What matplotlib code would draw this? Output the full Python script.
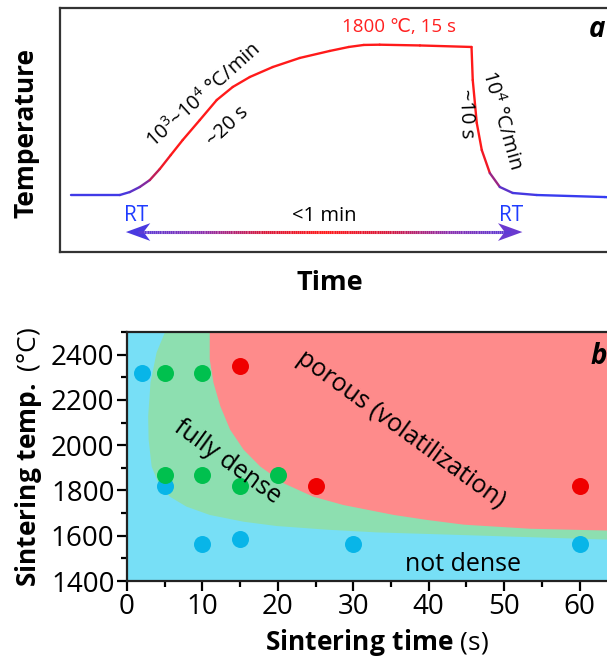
import numpy as np
import matplotlib
matplotlib.use("Agg")
import matplotlib.pyplot as plt
from matplotlib.collections import LineCollection
from matplotlib.colors import LinearSegmentedColormap
from matplotlib.patches import Polygon

plt.rcParams['font.family'] = ['Open Sans', 'DejaVu Sans']
plt.rcParams['mathtext.fontset'] = 'custom'
plt.rcParams['mathtext.rm'] = 'Open Sans'
plt.rcParams['mathtext.bf'] = 'Open Sans:bold'
plt.rcParams['mathtext.it'] = 'Open Sans:italic'

# (a) schematic temperature profile, time in s, temperature in degC
profile_time = [-4.0, 0.0, 0.82, 1.64, 2.46, 3.28, 4.18, 5.16, 6.56, 7.95, 9.26,
                10.66, 12.54, 14.75, 17.21, 18.77, 20.0, 21.3, 24.6, 28.83,
                28.93, 29.26, 29.67, 30.33, 31.15, 32.21, 34.18, 39.75, 41.0]
profile_temp = [25, 25, 60, 120, 202, 333, 498, 676, 912, 1149, 1303,
                1421, 1539, 1646, 1729, 1776, 1800, 1803, 1794, 1776,
                1385, 877, 557, 285, 120, 49, 25, 1, -10]

# (b) sintering map
blue_time = [2, 5, 10, 15, 30, 60]
blue_temp = [2320, 1820, 1565, 1585, 1565, 1565]
green_time = [5, 10, 5, 10, 15, 20]
green_temp = [2320, 2320, 1870, 1870, 1820, 1870]
red_time = [15, 25, 60]
red_temp = [2350, 1820, 1820]

dense_edge_temp = [1576, 1585, 1605, 1617, 1629, 1645, 1664, 1694, 1731, 1775, 1834,
                   1908, 2027, 2130, 2278, 2411, 2500]
dense_edge_time = [75, 63.7, 44.6, 33, 26.4, 19.8, 15.4, 10.9, 7.8, 5.6, 4.1,
                   3.2, 2.8, 2.74, 3.05, 3.85, 4.95]
porous_edge_temp = [1622, 1625, 1633, 1651, 1672, 1694, 1738, 1775, 1834, 1908, 1982,
                    2071, 2175, 2278, 2382, 2500]
porous_edge_time = [75, 63.7, 53.4, 44.6, 39.7, 35.3, 28.6, 24.6, 20.7, 17.6, 15.4,
                    13.6, 12.3, 11.4, 10.9, 10.9]

fig = plt.figure(figsize=(6.07, 6.58), dpi=100)

# ---------------- panel a ----------------
ax1 = fig.add_axes([60 / 607, 1 - 252 / 658, 560 / 607, 244 / 658])
ax1.set_xlim(-4.9, 41.0)
ax1.set_ylim(-649, 2237)
ax1.set_xticks([])
ax1.set_yticks([])
for s in ax1.spines.values():
    s.set_linewidth(1.6)
    s.set_color('#333333')

heat = LinearSegmentedColormap.from_list('heat', ['#2a40ff', '#7a2aa8', '#d8183c', '#ff1a1a'])
t = np.array(profile_time, dtype=float)
T = np.array(profile_temp, dtype=float)
pts = np.column_stack([t, T]).reshape(-1, 1, 2)
segs = np.concatenate([pts[:-1], pts[1:]], axis=1)
lc = LineCollection(segs, cmap=heat, norm=plt.Normalize(-20, 480), linewidth=1.7,
                    capstyle='round', joinstyle='round')
lc.set_array((T[:-1] + T[1:]) / 2)
ax1.add_collection(lc)

# double arrow "<1 min"
arr_y = -413
arr_x = np.linspace(1.5, 32.0, 200)
dist = np.abs(arr_x - 16.75) / 15.25
arrow_cmap = LinearSegmentedColormap.from_list('arr', ['#ff1a1a', '#d8183c', '#8a30b0', '#5a3cd8'])
apts = np.column_stack([arr_x, np.full_like(arr_x, arr_y)]).reshape(-1, 1, 2)
aseg = np.concatenate([apts[:-1], apts[1:]], axis=1)
alc = LineCollection(aseg, cmap=arrow_cmap, norm=plt.Normalize(0, 1), linewidth=2.2)
alc.set_array(dist[:-1])
ax1.add_collection(alc)
hl, hw, notch = 2.0, 105, 0.55
ax1.add_patch(Polygon([[0.5, arr_y], [0.5 + hl, arr_y + hw], [0.5 + hl - notch, arr_y],
                       [0.5 + hl, arr_y - hw]], closed=True, color='#4a3ae0', lw=0))
ax1.add_patch(Polygon([[33.0, arr_y], [33.0 - hl, arr_y + hw], [33.0 - hl + notch, arr_y],
                       [33.0 - hl, arr_y - hw]], closed=True, color='#6a3ad0', lw=0))

ax1.text(1.3, -220, 'RT', color='#1f3cff', fontsize=15, ha='center', va='center')
ax1.text(32.1, -220, 'RT', color='#1f3cff', fontsize=15, ha='center', va='center')
ax1.text(16.8, -220, '<1 min', color='black', fontsize=14.5, ha='center', va='center')
ax1.text(22.9, 2010, '1800 \u2103, 15 s', color='#ff2020', fontsize=13.5, ha='center', va='center')
ax1.text(6.9, 1210, r'10$^3$~10$^4$ °C/min', fontsize=14.5, rotation=42,
         ha='center', va='center', rotation_mode='anchor')
ax1.text(8.85, 830, '~20 s', fontsize=14.5, rotation=43,
         ha='center', va='center', rotation_mode='anchor')
ax1.text(28.4, 990, '~10 s', fontsize=14.5, rotation=-88,
         ha='center', va='center', rotation_mode='anchor')
ax1.text(31.3, 910, r'10$^4$ °C/min', fontsize=14.5, rotation=-74,
         ha='center', va='center', rotation_mode='anchor')
ax1.text(39.1, 1985, 'a', fontsize=20, fontweight='bold', style='italic',
         ha='center', va='center')

fig.text(26 / 607, 1 - 133 / 658, 'Temperature', fontsize=19, fontweight='bold',
         rotation=90, ha='center', va='center')
fig.text(330 / 607, 1 - 283 / 658, 'Time', fontsize=19.5, fontweight='bold',
         ha='center', va='center')

# ---------------- panel b ----------------
ax2 = fig.add_axes([127 / 607, 1 - 581 / 658, 528 / 607, 249 / 658])
ax2.set_xlim(0, 70)
ax2.set_ylim(1400, 2500)
ax2.set_facecolor('#77dff6')
ax2.fill_betweenx(dense_edge_temp, dense_edge_time, 80, color='#8ddfb0', lw=0)
ax2.fill_betweenx(porous_edge_temp, porous_edge_time, 80, color='#fe8b8b', lw=0)

ax2.scatter(blue_time, blue_temp, s=150, color='#08b5e8', zorder=3, lw=0)
ax2.scatter(green_time, green_temp, s=150, color='#00c04e', zorder=3, lw=0)
ax2.scatter(red_time, red_temp, s=150, color='#f00000', zorder=3, lw=0)

ax2.text(36.3, 2069, 'porous (volatilization)', fontsize=18, rotation=-36,
         ha='center', va='center', rotation_mode='anchor')
ax2.text(13.3, 1925, 'fully dense', fontsize=18, rotation=-36,
         ha='center', va='center', rotation_mode='anchor')
ax2.text(44.6, 1472, 'not dense', fontsize=18, ha='center', va='center')
ax2.text(62.5, 2392, 'b', fontsize=20, fontweight='bold', style='italic',
         ha='center', va='center')

ax2.set_xticks(np.arange(0, 61, 10))
ax2.set_xticks(np.arange(5, 66, 10), minor=True)
ax2.set_yticks(np.arange(1400, 2401, 200))
ax2.set_yticks(np.arange(1500, 2501, 200), minor=True)
ax2.tick_params(which='major', direction='out', length=7, width=1.6, labelsize=20, pad=2)
ax2.tick_params(which='minor', direction='out', length=4, width=1.6)
for s in ax2.spines.values():
    s.set_linewidth(1.6)
    s.set_color('#222222')

fig.text(29 / 607, 1 - 457 / 658, r'$\mathbf{Sintering\ temp.}$ (°C)', fontsize=19,
         rotation=90, ha='center', va='center')
fig.text(377 / 607, 1 - 642 / 658, r'$\mathbf{Sintering\ time}$ (s)', fontsize=19,
         ha='center', va='center')

fig.savefig('out.png', dpi=100)
